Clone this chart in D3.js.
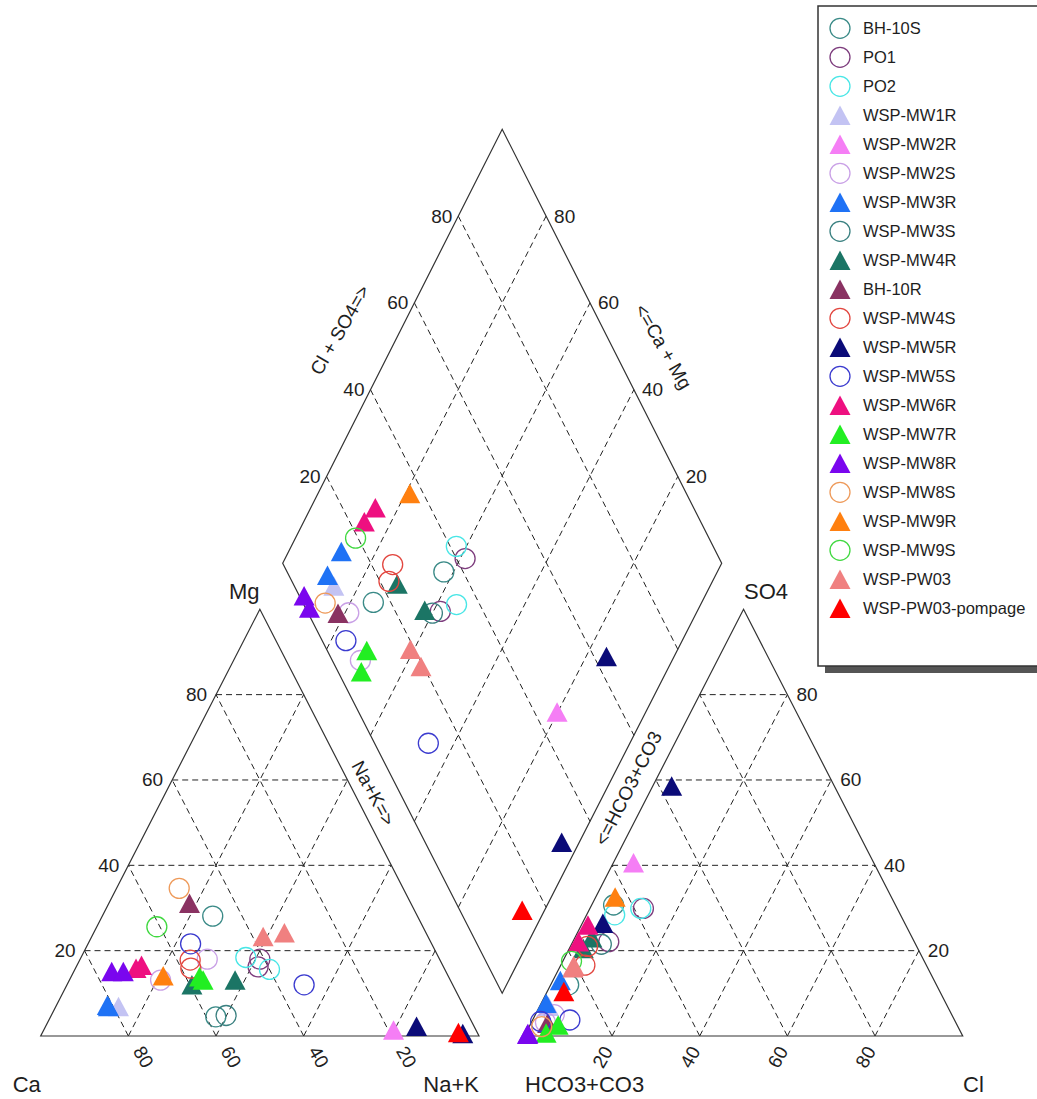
<!DOCTYPE html>
<html><head><meta charset="utf-8">
<script src="https://cdn.jsdelivr.net/npm/d3@7/dist/d3.min.js"></script>
<style>
body{margin:0;background:#fff}
svg{display:block}
text{font-family:"Liberation Sans",Arial,Helvetica,sans-serif;fill:#1e1e1e}
</style>
</head><body>
<svg id="chart" width="1037" height="1099"></svg>
<script>
// ---------- data ----------
const seriesNames = ["BH-10S","PO1","PO2","WSP-MW1R","WSP-MW2R","WSP-MW2S","WSP-MW3R","WSP-MW3S",
  "WSP-MW4R","BH-10R","WSP-MW4S","WSP-MW5R","WSP-MW5S","WSP-MW6R","WSP-MW7R","WSP-MW8R",
  "WSP-MW8S","WSP-MW9R","WSP-MW9S","WSP-PW03","WSP-PW03-pompage"];
const seriesShapes = ["circle","circle","circle","triangle","triangle","circle","triangle","circle",
  "triangle","triangle","circle","triangle","circle","triangle","triangle","triangle",
  "circle","triangle","circle","triangle","triangle"];
const seriesColors = ["#3a8a87","#7d3c7d","#48e6e6","#c3c3f3","#f57ef5","#c9a0e6","#1f72f5","#3a8080",
  "#1b7565","#8a3262","#e2463f","#0b0b78","#3b3bcf","#ee1080","#22ee22","#7a06ee",
  "#ee9a5a","#ff8010","#40d840","#f08080","#ff0000"];

// one entry per sample (milliequivalent percentages)
const sampleSeries = [0,0,1,1,2,2,3,4,5,5,6,6,7,8,8,9,10,10,11,11,12,12,13,13,14,14,15,15,16,17,18,19,19,20];
const sampleMg  = [28.1,4.5,18.0,16.2,18.4,15.6,6.9,1.4,13.1,18.0,6.9,7.2,4.8,12.0,13.1,31.1,17.8,15.9,2.3,0.6,21.6,12.0,16.6,15.9,13.9,13.1,15.1,15.1,34.6,14.1,25.6,23.3,24.2,0.8];
const sampleNaK = [25.2,37.7,41.0,41.5,37.6,44.4,14.3,79.8,20.8,29.0,12.0,11.6,39.9,28.5,37.8,18.4,25.2,26.3,84.6,96.0,23.4,54.1,14.7,13.8,29.3,30.5,8.65,11.3,14.3,20.9,13.7,39.1,43.5,94.9];
const sampleSO4 = [12.0,30.7,29.9,22.1,29.9,28.4,7.0,40.6,5.0,3.2,13.0,7.7,21.5,20.5,23.0,3.0,21.0,16.6,58.6,26.4,3.4,3.75,26.0,22.1,2.6,0.7,0.6,0.4,2.2,32.6,17.5,16.0,16.5,10.4];
const sampleCl  = [4.1,5.0,12.2,8.2,11.6,6.4,2.0,4.6,4.3,3.2,1.7,1.1,6.8,3.2,3.9,3.8,3.9,5.5,4.3,4.7,2.0,8.5,1.5,1.3,6.4,4.6,0.5,0.5,2.85,4.4,2.0,3.1,3.0,3.8];

const gridTicks = [20,40,60,80];

// ---------- geometry via scales ----------
const svg = d3.select("#chart");
const lx = d3.scaleLinear().domain([0,1]).range([40.7,479]);
const rx = d3.scaleLinear().domain([0,1]).range([524.4,962.7]);
const ty = d3.scaleLinear().domain([0,100]).range([1036,609.3]);
const dx = d3.scaleLinear().domain([0,1]).range([282.7,721.7]);
const dy = d3.scaleLinear().domain([-1,0,1]).range([993.3,563.3,129.3]);

const leftPt  = (mg,nak) => [lx(nak/100 + mg/200), ty(mg)];
const rightPt = (so4,cl) => [rx(cl/100 + so4/200), ty(so4)];
const diaPt   = (a,n) => [dx((a+n)/200), dy((a-n)/100)];

const edgeColor = "#333", gridColor = "#222";
const g = svg.append("g");

function poly(pts){ g.append("path").attr("d", d3.line()(pts)+"Z").attr("fill","none")
  .attr("stroke",edgeColor).attr("stroke-width",1.2); }
function dash(p1,p2){ g.append("line").attr("x1",p1[0]).attr("y1",p1[1]).attr("x2",p2[0]).attr("y2",p2[1])
  .attr("stroke",gridColor).attr("stroke-width",1).attr("stroke-dasharray","6,4"); }
function label(x,y,txt,opt){
  opt = opt||{};
  const t = g.append("text").attr("x",x).attr("y",y).text(txt)
    .attr("font-size",opt.size||19).attr("text-anchor",opt.anchor||"middle");
  if(opt.central) t.attr("dominant-baseline","central");
  if(opt.rot!==undefined) t.attr("transform",`rotate(${opt.rot},${x},${y})`);
  return t;
}

// grids
gridTicks.forEach(v=>{
  // left triangle
  dash(leftPt(v,0), leftPt(v,100-v));           // Mg constant
  dash(leftPt(0,v), leftPt(100-v,v));           // NaK constant
  dash(leftPt(0,100-v), leftPt(100-v,0));       // Ca constant
  // right triangle
  dash(rightPt(v,0), rightPt(v,100-v));         // SO4 constant
  dash(rightPt(0,v), rightPt(100-v,v));         // Cl constant
  dash(rightPt(0,100-v), rightPt(100-v,0));     // HCO3 constant
  // diamond
  dash(diaPt(v,0), diaPt(v,100));
  dash(diaPt(0,v), diaPt(100,v));
});

// outlines
poly([leftPt(0,0), leftPt(0,100), leftPt(100,0)]);
poly([rightPt(0,0), rightPt(0,100), rightPt(100,0)]);
poly([diaPt(0,0), diaPt(100,0), diaPt(100,100), diaPt(0,100)]);

// tick labels
gridTicks.forEach(v=>{
  let p = leftPt(v,0);
  label(p[0]-9, p[1], v, {anchor:"end", central:true});
  p = leftPt(0,v);                               // Ca = 100 - v
  label(p[0]+15, p[1]+21, 100-v, {central:true, rot:60});
  p = rightPt(0,v);
  label(p[0]-9.5, p[1]+21, v, {central:true, rot:-60});
  p = rightPt(v,100-v);
  label(p[0]+9, p[1], v, {anchor:"start", central:true});
  p = diaPt(v,0);
  label(p[0]-6, p[1], v, {anchor:"end", central:true});
  p = diaPt(100,100-v);                          // Ca+Mg = v
  label(p[0]+8, p[1], v, {anchor:"start", central:true});
});

// corner labels
label(244.3, 599, "Mg", {size:22});
label(766, 599, "SO4", {size:22});
label(12.7, 1092, "Ca", {size:22, anchor:"start"});
label(479, 1092, "Na+K", {size:22, anchor:"end"});
label(525, 1092, "HCO3+CO3", {size:22, anchor:"start"});
label(963, 1092, "Cl", {size:22, anchor:"start"});

// diamond axis titles
label(340, 330, "Cl + SO4=>", {central:true, rot:-60});
label(663.3, 346.7, "<=Ca + Mg", {central:true, rot:60});
label(373.3, 793.3, "Na+K=>", {central:true, rot:62});
label(628.3, 788.3, "<=HCO3+CO3", {central:true, rot:-63});

// ---------- markers ----------
const triPath = "M0,-9.75L10.5,9.75L-10.5,9.75Z";
function marker(parent, x, y, si){
  const col = seriesColors[si];
  if(seriesShapes[si]==="circle"){
    parent.append("circle").attr("cx",x).attr("cy",y).attr("r",10)
      .attr("fill","none").attr("stroke",col).attr("stroke-width",1.3);
  } else {
    parent.append("path").attr("d",triPath).attr("transform",`translate(${x},${y})`)
      .attr("fill",col);
  }
}
const pts = svg.append("g");
const idx = d3.range(sampleSeries.length);
idx.forEach(i=>{ const p = leftPt(sampleMg[i], sampleNaK[i]); marker(pts,p[0],p[1],sampleSeries[i]); });
idx.forEach(i=>{ const p = rightPt(sampleSO4[i], sampleCl[i]); marker(pts,p[0],p[1],sampleSeries[i]); });
idx.forEach(i=>{ const p = diaPt(sampleSO4[i]+sampleCl[i], sampleNaK[i]); marker(pts,p[0],p[1],sampleSeries[i]); });

// ---------- legend ----------
const lg = svg.append("g");
lg.append("rect").attr("x",825).attr("y",13).attr("width",240).attr("height",660).attr("fill","#555");
lg.append("rect").attr("x",818).attr("y",6).attr("width",240).attr("height",660)
  .attr("fill","#fff").attr("stroke","#333").attr("stroke-width",1.5);
seriesNames.forEach((nm,i)=>{
  const y = 28.3 + i*29;
  marker(lg, 840, y, i);
  lg.append("text").attr("x",863).attr("y",y).attr("dominant-baseline","central")
    .attr("font-size",16.5).text(nm);
});
</script>
</body></html>
